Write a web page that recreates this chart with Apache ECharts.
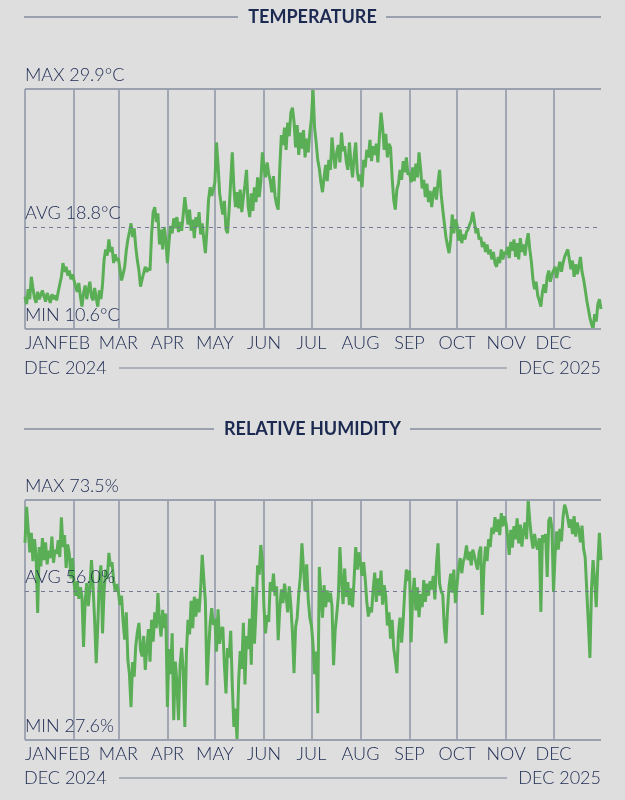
<!DOCTYPE html>
<html>
<head>
<meta charset="utf-8">
<title>Temperature / Relative humidity</title>
<script src="https://cdn.jsdelivr.net/npm/echarts@6.0.0/dist/echarts.min.js"></script>
<style>
  html, body { margin: 0; padding: 0; background: #dedede; }
  #main { width: 625px; height: 800px; }
</style>
</head>
<body>
<div id="main"></div>
<script>
// data, one value per day of 2025
var year = 2025;
var monthNames = ['JAN', 'FEB', 'MAR', 'APR', 'MAY', 'JUN', 'JUL', 'AUG', 'SEP', 'OCT', 'NOV', 'DEC'];
var periodLabels = ['DEC 2024', 'DEC 2025'];

var temperature = [
  // jan
  13.2, 12.6, 13.8, 13.0, 14.8, 13.9, 13.1, 12.7, 13.6, 13.0, 12.9, 13.7, 13.2, 12.8, 13.5, 13.1, 12.7, 13.4, 13.0, 13.3, 12.9, 13.6, 14.2, 14.8, 15.9, 15.2, 15.6, 14.9, 15.3, 14.6, 15.0,
  // feb
  14.5, 14.0, 13.6, 14.3, 13.2, 12.4, 13.5, 14.1, 13.0, 13.8, 14.4, 13.2, 12.9, 13.9, 13.1, 12.4, 13.7, 13.0, 14.2, 16.2, 17.0, 16.5, 17.8, 16.8, 17.2, 15.9, 16.6, 16.1,
  // mar
  16.3, 15.4, 14.5, 15.0, 15.6, 16.9, 17.8, 18.4, 19.1, 18.0, 18.7, 17.2, 16.1, 15.3, 14.0, 14.6, 15.1, 15.6, 15.2, 15.5, 15.3, 18.2, 20.0, 20.4, 19.2, 19.9, 17.4, 18.6, 17.0, 18.8, 17.8,
  // apr
  15.9, 17.6, 18.9, 18.3, 19.5, 18.7, 19.6, 18.4, 19.2, 18.5, 19.8, 21.2, 20.1, 19.0, 20.2, 18.5, 19.4, 17.9, 19.6, 18.8, 20.0, 18.2, 19.1, 17.8, 16.7, 18.6, 21.0, 22.0, 21.3, 21.8,
  // may
  22.4, 25.6, 23.8, 21.5, 20.6, 19.8, 20.9, 18.6, 18.3, 20.2, 22.5, 24.8, 22.0, 20.4, 21.6, 20.3, 21.8, 20.0, 21.2, 22.2, 23.4, 20.5, 19.6, 21.5, 20.1, 22.0, 20.8, 22.8, 21.2, 22.4, 24.8,
  // jun
  23.6, 22.8, 24.0, 23.1, 22.5, 21.6, 22.9, 21.3, 20.6, 20.2, 23.5, 26.2, 25.4, 26.8, 25.0, 27.2, 26.1, 28.0, 28.4, 27.3, 25.2, 27.0, 24.6, 26.4, 25.1, 26.6, 24.4, 25.9, 24.8, 26.4,
  // jul
  27.5, 29.9, 26.8, 25.6, 24.2, 23.5, 22.4, 21.6, 22.8, 23.8, 22.5, 24.2, 23.4, 26.0, 24.6, 23.5, 24.8, 25.4, 24.0, 26.4, 24.9, 25.3, 24.1, 23.4, 25.6, 23.9, 22.8, 24.5, 25.6, 23.2, 22.5,
  // aug
  23.0, 22.0, 24.2, 23.6, 25.0, 24.4, 25.8, 24.1, 25.3, 24.6, 25.5, 24.0, 26.2, 28.0, 26.8, 25.0, 26.3, 24.4, 25.5, 25.2, 22.8, 21.0, 20.2, 21.8, 22.3, 23.4, 22.6, 24.1, 23.2, 24.4, 23.0,
  // sep
  23.2, 22.4, 23.6, 22.5, 23.9, 22.8, 24.8, 23.5, 21.9, 22.6, 21.2, 22.3, 20.8, 21.7, 20.4, 21.5, 22.0, 21.0, 22.4, 23.4, 21.4, 20.2, 19.1, 18.0, 17.3, 16.7, 17.8, 19.8, 18.3, 19.4,
  // oct
  19.0, 17.7, 18.6, 17.5, 18.2, 17.8, 18.4, 18.6, 19.0, 19.3, 20.0, 19.2, 18.3, 18.7, 17.8, 18.0, 17.2, 17.6, 16.8, 17.4, 16.6, 17.0, 16.2, 16.8, 15.9, 15.6, 16.4, 15.9, 17.0, 16.2, 16.8,
  // nov
  16.6, 17.2, 16.3, 17.6, 16.9, 17.8, 16.4, 17.5, 16.2, 17.9, 16.8, 17.4, 16.5, 17.6, 18.3, 17.0, 16.0, 14.6, 13.8, 14.4, 13.3, 12.9, 12.4, 13.6, 14.2, 13.5, 14.8, 15.3, 14.4, 15.0,
  // dec
  14.9, 15.6, 14.7, 15.4, 16.0, 15.2, 15.9, 16.4, 16.7, 17.0, 16.2, 15.4, 16.1, 14.8, 15.8, 15.0, 15.6, 16.4, 15.2, 14.6, 13.8, 12.9, 12.2, 11.5, 11.0, 10.6, 11.8, 11.2, 12.6, 13.0, 12.2
];

var humidity = [
  // jan
  65.3, 72.2, 68.0, 63.5, 67.2, 61.8, 66.0, 63.0, 51.9, 64.5, 60.8, 66.2, 62.0, 65.4, 61.2, 63.8, 62.4, 66.5, 61.5, 64.0, 63.2, 65.8, 62.6, 70.2, 64.5, 66.8, 60.5, 65.0, 63.2, 58.5, 62.4,
  // feb
  57.5, 55.2, 58.0, 54.6, 56.8, 55.0, 45.4, 54.0, 57.6, 53.2, 56.4, 62.0, 57.0, 50.5, 42.3, 49.5, 58.6, 61.0, 48.0, 56.3, 60.2, 58.4, 63.4, 60.8, 61.6, 58.2, 56.0, 57.4,
  // mar
  56.0, 53.4, 55.2, 50.2, 46.8, 52.0, 43.0, 40.2, 33.9, 42.5, 39.7, 45.6, 48.2, 50.0, 44.8, 43.6, 47.5, 41.0, 45.2, 48.8, 42.6, 50.6, 46.4, 52.0, 49.0, 55.7, 50.2, 47.4, 52.5, 49.0, 51.8,
  // apr
  33.9, 45.0, 40.2, 48.0, 31.4, 42.6, 38.5, 31.4, 42.0, 45.2, 40.8, 30.1, 44.2, 50.6, 47.8, 54.2, 49.0, 55.0, 51.2, 54.6, 52.0, 56.5, 63.0, 58.4, 54.0, 38.1, 44.6, 50.0, 52.8, 49.6,
  // may
  50.8, 44.5, 52.6, 46.0, 48.8, 49.2, 42.0, 36.5, 45.2, 43.4, 48.5, 38.0, 30.1, 33.6, 27.6, 38.8, 44.6, 41.2, 50.0, 38.2, 47.5, 45.0, 50.8, 42.0, 56.9, 46.0, 52.4, 61.0, 59.2, 64.9, 62.0,
  // jun
  53.1, 48.0, 51.5, 50.2, 57.8, 56.0, 59.4, 55.2, 57.0, 46.7, 52.6, 56.4, 53.8, 57.5, 55.2, 52.0, 57.0, 53.4, 48.2, 40.4, 49.2, 51.0, 55.6, 58.8, 65.2, 60.4, 56.0, 61.2, 54.4, 51.0,
  // jul
  49.5, 46.0, 40.2, 44.5, 32.7, 60.7, 55.4, 51.0, 57.2, 53.0, 56.2, 54.0, 55.8, 53.2, 41.9, 48.5, 51.6, 55.0, 64.5, 58.2, 53.6, 60.4, 55.0, 57.8, 53.4, 56.6, 53.0, 58.5, 64.5, 60.2, 63.5,
  // aug
  63.8, 59.0, 61.6, 58.4, 54.0, 51.2, 53.0, 52.0, 56.2, 59.6, 54.0, 58.5, 55.2, 60.0, 53.5, 57.2, 55.0, 49.5, 52.0, 47.0, 50.6, 45.2, 43.0, 40.4, 48.0, 51.0, 46.2, 50.5, 56.2, 60.2, 58.0,
  // sep
  60.0, 46.3, 55.2, 58.6, 52.4, 56.8, 51.1, 55.5, 53.0, 58.2, 54.0, 57.5, 55.2, 58.0, 56.4, 59.0, 54.5, 61.2, 65.2, 57.5, 56.0, 55.4, 49.0, 46.1, 52.5, 57.0, 59.4, 55.8, 60.2, 53.8,
  // oct
  53.8, 60.5, 62.4, 59.5, 61.8, 62.6, 64.8, 62.0, 63.6, 61.0, 64.0, 62.8, 61.4, 60.2, 63.5, 64.6, 51.5, 60.4, 64.6, 61.8, 66.0, 64.5, 68.2, 67.0, 70.2, 67.4, 69.8, 66.8, 71.0, 68.5, 70.4,
  // nov
  69.0, 66.5, 63.0, 67.8, 64.4, 68.5, 66.0, 70.0, 65.2, 68.8, 64.6, 67.5, 69.2, 66.0, 73.5, 69.5, 66.4, 64.2, 67.0, 65.0, 64.0, 66.2, 52.1, 66.8, 65.4, 67.0, 58.8, 69.6, 70.2, 68.0,
  // dec
  55.9, 63.2, 67.5, 64.0, 68.0, 65.6, 70.2, 72.6, 71.6, 70.0, 68.2, 69.8, 67.0, 70.4, 66.5, 69.2, 67.8, 65.4, 68.6, 64.2, 62.5, 62.8, 50.0, 43.3, 56.5, 62.0, 58.0, 53.0, 61.5, 67.2, 62.0
];

// summary values printed on the charts
var tempStats = [29.9, 18.8, 10.6];   // max, avg, min
var humStats = [73.5, 56.0, 27.6];

var navy = '#1c2951';
var green = '#5aae55';
var rule = '#9aa0ae';
var font = 'Lato, "Open Sans", sans-serif';

function pad(n) { return n < 10 ? '0' + n : '' + n; }
var days = [];
for (var m = 0; m < 12; m++) {
  var len = new Date(year, m + 1, 0).getDate();
  for (var d = 1; d <= len; d++) days.push(year + '-' + pad(m + 1) + '-' + pad(d));
}
function monthStart(i, v) { return v.slice(8) === '01'; }

function makeX(idx) {
  return {
    type: 'category', gridIndex: idx, data: days, boundaryGap: false,
    axisLine: { show: false }, axisTick: { show: false },
    axisLabel: {
      interval: monthStart, alignMinLabel: 'left',
      formatter: function (v) { return v.slice(8) === '01' ? monthNames[+v.slice(5, 7) - 1] : ''; },
      color: navy, fontSize: 18, fontFamily: font, fontWeight: 300, margin: 5
    },
    splitLine: { show: true, interval: monthStart, lineStyle: { color: '#8d93a4', width: 1.5 } }
  };
}
function makeY(idx, stats) {
  return { type: 'value', gridIndex: idx, min: stats[2], max: stats[0], show: false };
}
function makeSeries(idx, values, stats, unit) {
  return {
    type: 'line', xAxisIndex: idx, yAxisIndex: idx, data: values,
    symbol: 'none', lineStyle: { color: green, width: 3 }, z: 3,
    markLine: {
      silent: true, symbol: ['none', 'none'], animation: false,
      label: {
        position: 'insideStartTop', formatter: '{b}', distance: [0, 5],
        color: navy, fontSize: 18, fontFamily: font, fontWeight: 300
      },
      data: [
        { name: 'MAX ' + stats[0].toFixed(1) + unit, yAxis: stats[0], lineStyle: { type: 'solid', color: rule, width: 2 } },
        { name: 'AVG ' + stats[1].toFixed(1) + unit, yAxis: stats[1], lineStyle: { type: [4, 4], color: '#737b93', width: 1 } },
        { name: 'MIN ' + stats[2].toFixed(1) + unit, yAxis: stats[2], lineStyle: { type: 'solid', color: rule, width: 2 } }
      ]
    }
  };
}

function heading(text, y, gapL, gapR) {
  return [
    { type: 'line', shape: { x1: 24, y1: y, x2: gapL, y2: y }, style: { stroke: rule, lineWidth: 2 } },
    { type: 'line', shape: { x1: gapR, y1: y, x2: 601, y2: y }, style: { stroke: rule, lineWidth: 2 } },
    { type: 'text', x: 312.5, y: y, style: { text: text, fill: navy, font: 'bold 18px ' + font, textAlign: 'center', textVerticalAlign: 'middle' } }
  ];
}
function period(y) {
  return [
    { type: 'text', x: 24, y: y, style: { text: periodLabels[0], fill: navy, font: '300 18px ' + font, textAlign: 'left', textVerticalAlign: 'middle' } },
    { type: 'line', shape: { x1: 119, y1: y, x2: 507, y2: y }, style: { stroke: rule, lineWidth: 1.5 } },
    { type: 'text', x: 601, y: y, style: { text: periodLabels[1], fill: navy, font: '300 18px ' + font, textAlign: 'right', textVerticalAlign: 'middle' } }
  ];
}

var chart = echarts.init(document.getElementById('main'));
chart.setOption({
  backgroundColor: '#dedede',
  animation: false,
  grid: [
    { left: 25, right: 24, top: 89, height: 240 },
    { left: 25, right: 24, top: 500, height: 240 }
  ],
  xAxis: [makeX(0), makeX(1)],
  yAxis: [makeY(0, tempStats), makeY(1, humStats)],
  series: [
    makeSeries(0, temperature, tempStats, '°C'),
    makeSeries(1, humidity, humStats, '%')
  ],
  graphic: [].concat(
    heading('TEMPERATURE', 17, 238, 386),
    period(368),
    heading('RELATIVE HUMIDITY', 429, 214, 410),
    period(778)
  )
});
</script>
</body>
</html>
